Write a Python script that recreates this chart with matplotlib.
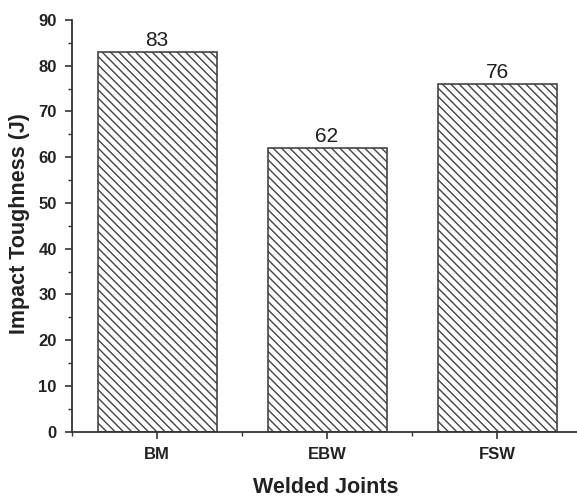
#!/usr/bin/env python3

import numpy as np
import matplotlib.pyplot as plt
from matplotlib.ticker import MultipleLocator

# ============================================================
# DATA
# ============================================================

JOINTS = ["BM", "EBW", "FSW"]
TOUGHNESS = [83, 62, 76]

# ============================================================
# PLOT
# ============================================================

plt.rcParams["font.family"] = ["Liberation Sans", "DejaVu Sans"]
plt.rcParams["hatch.linewidth"] = 1.0
plt.rcParams["hatch.color"] = "#3a3a3a"

fig = plt.figure(figsize=(5.77, 4.97), dpi=100)
ax = fig.add_axes([72 / 577, 65.3 / 497, 505 / 577, 411.7 / 497])

x = np.arange(len(JOINTS))
ax.bar(x, TOUGHNESS, width=0.7, facecolor="white",
       edgecolor="#444444", linewidth=1.2, hatch="\\\\\\\\")

for xi, v in zip(x, TOUGHNESS):
    ax.text(xi, v + 0.4, f"{v}", ha="center", va="bottom",
            fontsize=15, color="#1e1e1e")

ax.set_xlim(-0.5, 2.47)
ax.set_ylim(0, 90)
ax.set_xticks(x)
ax.set_xticklabels(JOINTS, fontsize=12, fontweight="bold", color="#222222")
ax.xaxis.set_minor_locator(MultipleLocator(0.5))
ax.yaxis.set_major_locator(MultipleLocator(10))
ax.yaxis.set_minor_locator(MultipleLocator(5))
for lbl in ax.get_yticklabels():
    lbl.set_fontweight("bold")
    lbl.set_fontsize(12)
    lbl.set_color("#222222")

ax.tick_params(axis="both", which="major", direction="out", length=5,
               width=1.2, color="#333333", pad=6)
ax.tick_params(axis="both", which="minor", direction="out", length=3,
               width=1.0, color="#333333")

for s in ["top", "right"]:
    ax.spines[s].set_visible(False)
for s in ["left", "bottom"]:
    ax.spines[s].set_linewidth(1.3)
    ax.spines[s].set_color("#333333")

# label positions given in pixels relative to the axes box
ax.set_ylabel("Impact Toughness (J)", fontsize=15.5, fontweight="bold",
              color="#222222", va="center")
ax.yaxis.set_label_coords((20 - 72) / 505, 0.505)
ax.set_xlabel("Welded Joints", fontsize=15.5, fontweight="bold",
              color="#222222", va="center")
ax.xaxis.set_label_coords((326 - 72) / 505, (431.7 - 487.5) / 411.7)

fig.savefig("out.png", dpi=100)
